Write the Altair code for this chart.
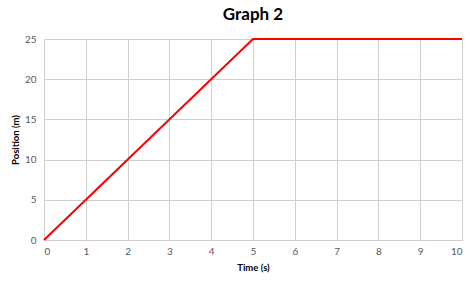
import altair as alt
import pandas as pd

time_s = [0, 5, 10]
position_m = [0, 25, 25]
x_ticks = [0, 1, 2, 3, 4, 5, 6, 7, 8, 9, 10]
y_ticks = [0, 5, 10, 15, 20, 25]

df = pd.DataFrame({"time": time_s, "position": position_m})

chart = alt.Chart(df).mark_line(color="#ff0000", strokeWidth=2, clip=False).encode(
    x=alt.X("time:Q", scale=alt.Scale(domain=[0, 10], nice=False),
            axis=alt.Axis(title="Time (s)", values=x_ticks, ticks=False, labelPadding=6,
                          titlePadding=6, domainColor="#d0d0d0", gridColor="#d0d0d0",
                          labelColor="#595959", labelFontSize=10, labelFont="Lato",
                          titleFont="Lato", titleFontSize=9.5, titleFontWeight="bold",
                          titleColor="#000000")),
    y=alt.Y("position:Q", scale=alt.Scale(domain=[0, 25], nice=False),
            axis=alt.Axis(title="Position (m)", values=y_ticks, ticks=False, labelPadding=8,
                          titlePadding=4, domain=False, gridColor="#d0d0d0",
                          labelColor="#595959", labelFontSize=10, labelFont="Lato",
                          titleFont="Lato", titleFontSize=9.5, titleFontWeight="bold",
                          titleColor="#000000")),
).properties(
    width=418, height=201,
    title=alt.TitleParams("Graph 2", font="Lato", fontSize=17, fontWeight="bold",
                          color="#000000", offset=10),
    autosize=alt.AutoSizeParams(type="none"),
    padding={"left": 44, "top": 39, "right": 12, "bottom": 42},
).configure_view(stroke=None)

chart.save("out.html", embed_options={"renderer": "svg", "actions": False})
